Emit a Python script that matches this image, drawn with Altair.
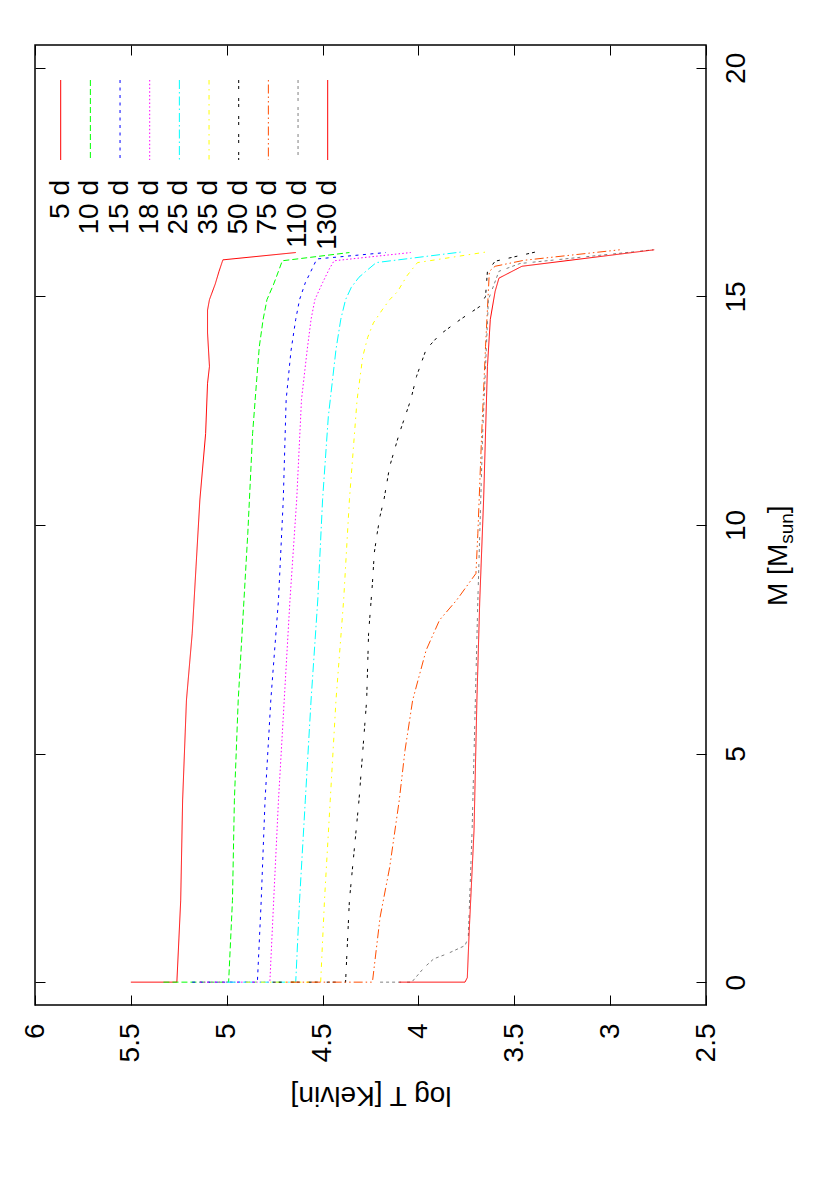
import altair as alt
import pandas as pd

FONT = "Liberation Sans"

series = ["5 d", "10 d", "15 d", "18 d", "25 d", "35 d", "50 d", "75 d", "110 d", "130 d"]
colors = ["#ff0000", "#00ff00", "#0000ff", "#ff00ff", "#00ffff", "#ffff00",
          "#000000", "#ff4d00", "#808080", "#ff0000"]
dashes = [[1, 0], [6, 3], [3, 4.5], [1.5, 2.25], [9, 3, 1.5, 3], [4.5, 4.5, 1.5, 4.5],
          [3, 3, 3, 9], [1.5, 3, 9, 3, 1.5, 3], [3, 3, 3, 3, 3, 3, 3, 6], [1, 0]]

logT_ticks = [6, 5.5, 5, 4.5, 4, 3.5, 3, 2.5]
M_ticks = [0, 5, 10, 15, 20]

# mass coordinate M [Msun] and log T for each epoch
M_5d = [0, 0, 1.79, 3.98, 6.17, 7.63, 9.09, 10.55, 12.0, 13.1, 13.47, 14.2, 14.7, 14.93, 15.27, 15.55, 15.8, 15.96]
T_5d = [5.50, 5.26, 5.24, 5.23, 5.21, 5.18, 5.16, 5.14, 5.11, 5.10, 5.09, 5.10, 5.10, 5.09, 5.06, 5.04, 5.02, 4.64]

M_10d = [0, 0, 1.79, 3.98, 6.17, 8.36, 9.82, 12.0, 13.1, 13.9, 14.5, 14.93, 15.27, 15.55, 15.78, 15.96]
T_10d = [5.33, 4.99, 4.97, 4.96, 4.94, 4.91, 4.89, 4.865, 4.845, 4.83, 4.81, 4.79, 4.755, 4.73, 4.71, 4.36]

M_15d = [0, 0, 1.79, 3.98, 6.17, 8.36, 10.55, 12.74, 13.8, 14.5, 14.93, 15.3, 15.6, 15.82, 15.96]
T_15d = [5.18, 4.84, 4.82, 4.80, 4.77, 4.73, 4.705, 4.69, 4.665, 4.64, 4.62, 4.59, 4.555, 4.53, 4.17]

M_18d = [0, 0, 1.79, 3.98, 6.17, 8.36, 10.55, 12.74, 13.84, 14.5, 14.93, 15.3, 15.6, 15.78, 15.96]
T_18d = [5.14, 4.775, 4.755, 4.73, 4.70, 4.67, 4.635, 4.61, 4.58, 4.56, 4.54, 4.50, 4.465, 4.44, 4.04]

M_25d = [0, 0, 1.79, 3.98, 6.17, 8.36, 10.55, 12.37, 13.84, 14.5, 14.93, 15.2, 15.42, 15.6, 15.74, 15.97]
T_25d = [5.00, 4.64, 4.62, 4.59, 4.56, 4.525, 4.50, 4.47, 4.43, 4.405, 4.38, 4.35, 4.31, 4.26, 4.22, 3.78]

M_35d = [0, 0, 1.79, 3.98, 6.17, 8.36, 10.55, 12.74, 13.69, 14.1, 14.42, 14.7, 14.93, 15.1, 15.45, 15.74, 15.97]
T_35d = [4.90, 4.51, 4.49, 4.46, 4.43, 4.39, 4.36, 4.32, 4.29, 4.265, 4.235, 4.19, 4.15, 4.11, 4.06, 4.005, 3.65]

M_50d = [0, 0, 1.79, 3.98, 6.17, 7.63, 8.72, 9.4, 9.82, 10.2, 10.55, 11.28, 12.0, 12.74, 13.25, 13.84, 14.16, 14.5, 14.78, 15.0, 15.55, 15.77, 15.99]
T_50d = [4.76, 4.38, 4.36, 4.31, 4.27, 4.26, 4.24, 4.23, 4.215, 4.20, 4.18, 4.15, 4.10, 4.04, 4.01, 3.96, 3.89, 3.78, 3.68, 3.65, 3.64, 3.60, 3.37]

M_75d = [0, 0, 1.42, 2.51, 3.98, 5.07, 6.17, 7.26, 7.92, 8.36, 8.65, 8.94, 9.82, 12.0, 13.9, 15.55, 15.66, 15.79, 16.02]
T_75d = [4.69, 4.24, 4.20, 4.15, 4.10, 4.07, 4.03, 3.96, 3.89, 3.80, 3.75, 3.70, 3.69, 3.67, 3.65, 3.63, 3.60, 3.45, 2.95]

M_110d = [0, 0, 0.32, 0.51, 0.62, 0.80, 0.98, 3.32, 8.36, 12.0, 14.93, 15.55, 15.72, 16.02]
T_110d = [4.20, 4.035, 3.97, 3.92, 3.85, 3.757, 3.74, 3.72, 3.69, 3.665, 3.635, 3.58, 3.47, 2.775]

M_130d = [0, 0, 0.1, 1.13, 3.32, 6.17, 8.36, 10.55, 13.47, 14.5, 15.11, 15.4, 15.66, 16.02]
T_130d = [4.10, 3.757, 3.745, 3.735, 3.71, 3.695, 3.68, 3.66, 3.64, 3.625, 3.60, 3.58, 3.46, 2.77]

Ms = [M_5d, M_10d, M_15d, M_18d, M_25d, M_35d, M_50d, M_75d, M_110d, M_130d]
Ts = [T_5d, T_10d, T_15d, T_18d, T_25d, T_35d, T_50d, T_75d, T_110d, T_130d]

rows = []
for s, mm, tt in zip(series, Ms, Ts):
    for i, (m, t) in enumerate(zip(mm, tt)):
        rows.append({"series": s, "i": i, "M": m, "logT": t})
df = pd.DataFrame(rows)
leg_df = pd.DataFrame({"series": series, "idx": list(range(len(series)))})

W, H = 671, 960
FS = 28

color_enc = alt.Color("series:N", scale=alt.Scale(domain=series, range=colors), legend=None)
dash_enc = alt.StrokeDash("series:N", scale=alt.Scale(domain=series, range=dashes), legend=None)

xscale = alt.Scale(domain=[2.5, 6], reverse=True, nice=False, zero=False)
yscale = alt.Scale(domain=[-0.5, 20.5], nice=False, zero=False)

common_axis = dict(tickSize=10, offset=-10, domain=False, grid=False, tickColor="black",
                   tickWidth=1, labelFont=FONT, labelFontSize=FS, labelColor="black",
                   labelFlush=False, labelOverlap=False)

lines = alt.Chart(df).mark_line(strokeWidth=1).encode(
    x=alt.X("logT:Q", scale=xscale, axis=alt.Axis(
        orient="bottom", values=logT_ticks, format=".1~f", labelAngle=270,
        labelAlign="right", labelBaseline="middle", labelPadding=18,
        title="log T [Kelvin]", titleFont=FONT, titleFontSize=FS, titleFontWeight="normal",
        titleColor="black", titleAngle=180, titleAlign="center", titleBaseline="middle",
        titleX=W / 2, titleY=99, **common_axis)),
    y=alt.Y("M:Q", scale=yscale, axis=alt.Axis(
        orient="right", values=M_ticks, format="d", labelAngle=270,
        labelAlign="center", labelBaseline="top", labelPadding=16, title=None, **common_axis)),
    color=color_enc,
    strokeDash=dash_enc,
    order=alt.Order("i:Q"),
)

mirror = alt.Chart(df).mark_line(strokeOpacity=0).encode(
    x=alt.X("logT:Q", scale=xscale, axis=alt.Axis(
        orient="top", values=logT_ticks, labels=False, title=None, **common_axis)),
    y=alt.Y("M:Q", scale=yscale, axis=alt.Axis(
        orient="left", values=M_ticks, labels=False, title=None, **common_axis)),
    detail="series:N",
    order=alt.Order("i:Q"),
)

leg_x = alt.X("idx:Q", scale=alt.Scale(domain=[0, 9], range=[25.7, 292.7]), axis=None)
leg_rules = alt.Chart(leg_df).mark_rule(strokeWidth=1).encode(
    x=leg_x, y=alt.value(35), y2=alt.value(115), color=color_enc, strokeDash=dash_enc)
leg_text = alt.Chart(leg_df).mark_text(
    angle=270, align="right", baseline="middle", font=FONT, fontSize=FS, color="black"
).encode(x=leg_x, y=alt.value(135), text="series:N")

# axis title "M [M_sun]" built from pieces (rotated, reading upward)
one = pd.DataFrame({"a": [0]})
bx, by = 752, 561
w1 = 2.222 * FS
SUBFS = 19
w2 = 1.612 * SUBFS
t1 = alt.Chart(one).mark_text(text="M [M", angle=270, align="left", baseline="alphabetic",
                              font=FONT, fontSize=FS, color="black").encode(
    x=alt.value(bx), y=alt.value(by))
t2 = alt.Chart(one).mark_text(text="sun", angle=270, align="left", baseline="alphabetic",
                              font=FONT, fontSize=SUBFS, color="black").encode(
    x=alt.value(bx + 6), y=alt.value(by - w1))
t3 = alt.Chart(one).mark_text(text="]", angle=270, align="left", baseline="alphabetic",
                              font=FONT, fontSize=FS, color="black").encode(
    x=alt.value(bx), y=alt.value(by - w1 - w2))

chart = alt.layer(lines, mirror, leg_rules, leg_text, t1, t2, t3).resolve_scale(
    x="independent", y="independent"
).resolve_axis(x="independent", y="independent").properties(
    width=W, height=H,
    background="white",
    autosize=alt.AutoSizeParams(type="none"),
    padding={"left": 27, "top": 37, "right": 110, "bottom": 170},
).configure_view(stroke="black", strokeWidth=1.5)

chart.save("out.html", embed_options={"renderer": "svg", "actions": False})
